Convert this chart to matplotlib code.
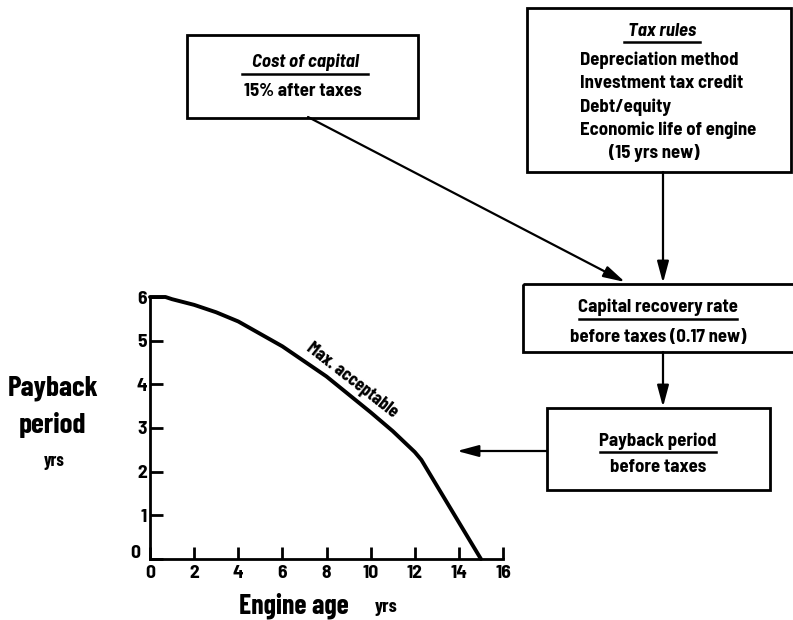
import matplotlib
matplotlib.use("Agg")
import matplotlib.pyplot as plt
from matplotlib.patches import Rectangle, FancyArrowPatch

COND = ['Barlow Condensed', 'DejaVu Sans']
SEMI = ['Barlow Semi Condensed', 'DejaVu Sans']
plt.rcParams['font.family'] = COND
plt.rcParams['font.weight'] = 'bold'

# ---- data ----
engine_age = [0, 0.7, 1, 2, 3, 4, 6, 8, 10, 11, 12, 12.3, 13, 14, 15]
payback = [6.0, 6.0, 5.95, 5.82, 5.65, 5.44, 4.87, 4.18, 3.36, 2.93, 2.45, 2.27, 1.68, 0.84, 0.0]
x_ticks = [0, 2, 4, 6, 8, 10, 12, 14, 16]
y_ticks = [0, 1, 2, 3, 4, 5, 6]

W, H = 793, 620
fig = plt.figure(figsize=(W / 100, H / 100), dpi=100)

# ---- chart axes ----
x0, x1, y0, y1 = 150, 503, 559, 297
ax = fig.add_axes([x0 / W, 1 - y0 / H, (x1 - x0) / W, (y0 - y1) / H])
ax.plot(engine_age, payback, color='black', lw=2.8, clip_on=False,
        solid_capstyle='round', solid_joinstyle='round')
ax.set_xlim(0, 16)
ax.set_ylim(0, 6)
for s in ['top', 'right']:
    ax.spines[s].set_visible(False)
for s in ['left', 'bottom']:
    ax.spines[s].set_linewidth(2)
ax.set_xticks(x_ticks)
ax.set_yticks(y_ticks)
ax.set_xticklabels([str(t) for t in x_ticks])
ax.set_yticklabels([''] + [str(t) for t in y_ticks[1:]])
for lab in ax.get_xticklabels() + ax.get_yticklabels():
    lab.set_fontweight('bold')
    lab.set_family(SEMI)
ax.tick_params(direction='in', length=9, width=2, labelsize=14, pad=4)
ax.tick_params(axis='y', pad=2)
ax.text(-0.45, 0.12, '0', fontsize=14, fontweight='bold', ha='right', va='center', family=SEMI)
ax.text(9.15, 4.08, 'Max. acceptable', fontsize=13.5, fontweight='bold', rotation=-38,
        ha='center', va='center', rotation_mode='anchor')

# ---- overlay for diagram (pixel coordinates) ----
ov = fig.add_axes([0, 0, 1, 1])
ov.set_xlim(0, W)
ov.set_ylim(H, 0)
ov.axis('off')
ov.patch.set_alpha(0)

def box(l, t, r, b):
    ov.add_patch(Rectangle((l, t), r - l, b - t, fill=False, lw=2, ec='black', clip_on=False))

def txt(x, y, s, size=13.5, ha='center', style='normal', fam=SEMI):
    ov.text(x, y, s, fontsize=size, fontweight='bold', ha=ha, va='center', style=style, family=fam)

def uline(xa, xb, y):
    ov.plot([xa, xb], [y, y], color='black', lw=1.8)

def arrow(p, q):
    ov.add_patch(FancyArrowPatch(p, q, arrowstyle='-|>,head_length=13,head_width=3.5',
                                 mutation_scale=1, lw=1.6, color='black', shrinkA=0, shrinkB=0))

# Cost of capital box
box(187, 35, 418, 118)
txt(305, 62, 'Cost of capital', style='italic')
uline(242, 368, 74)
txt(303, 92, '15% after taxes')

# Tax rules box
box(527, 8, 791, 172)
txt(662, 32, 'Tax rules', style='italic')
uline(624, 700, 42)
txt(580, 60, 'Depreciation method', ha='left')
txt(580, 83, 'Investment tax credit', ha='left')
txt(580, 107, 'Debt/equity', ha='left')
txt(580, 130, 'Economic life of engine', ha='left')
txt(654, 153, '(15 yrs new)')

# Capital recovery box
box(523, 284, 800, 352)
txt(658, 307, 'Capital recovery rate')
uline(579, 737, 319)
txt(658, 337, 'before taxes (0.17 new)')

# Payback period box
box(547, 408, 770, 490)
txt(658, 441, 'Payback period')
uline(600, 716, 452)
txt(658, 468, 'before taxes')

# Arrows
arrow((308, 117), (625, 282))
arrow((663, 172), (663, 283))
arrow((663, 352), (663, 407))
arrow((547, 451), (457, 451))

# Axis titles
txt(53, 388, 'Payback', size=21, fam=COND)
txt(53, 425, 'period', size=21, fam=COND)
txt(54, 461, 'yrs', size=13, fam=COND)
txt(294, 606, 'Engine age', size=20, fam=COND)
txt(386, 608, 'yrs', size=14, fam=COND)

fig.savefig('out.png', dpi=100)
